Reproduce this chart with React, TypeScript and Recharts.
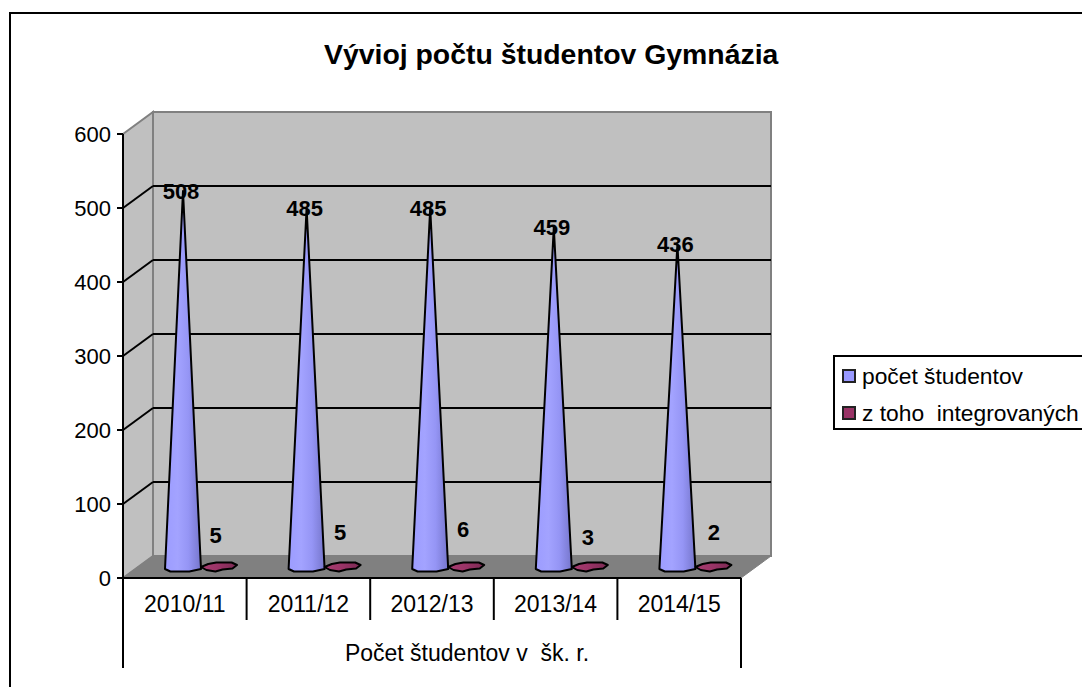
import React from 'react';
import { ComposedChart, Bar, XAxis, YAxis, LabelList, usePlotArea } from 'recharts';

const categories = ['2010/11', '2011/12', '2012/13', '2013/14', '2014/15'];
const studentCounts = [508, 485, 485, 459, 436];
const integratedCounts = [5, 5, 6, 3, 2];
const yTicks = [0, 100, 200, 300, 400, 500, 600];
const seriesNames = ['počet študentov', 'z toho  integrovaných'];
const groupLabel = 'Počet študentov v  šk. r.';
const chartTitle = 'Vývioj počtu študentov Gymnázia';

const rows = categories.map((c, i) => ({ category: c, students: studentCounts[i], integrated: integratedCounts[i] }));

const FONT = '"Liberation Sans", Arial, sans-serif';
const DEPTH_X = 30;
const DEPTH_Y = 22;
const MID_X = 16;
const MID_Y = 11;
const Y_MAX = 600;
const integratedNudge = [-28, -31, -34, -28, -33.5];
const integratedNudgeX = [-3.5, -2.6, -3, -2, 0.5];

function Walls() {
  const plot = usePlotArea();
  if (!plot) return null;
  const { x, y, width, height } = plot;
  const bottom = y + height;
  const right = x + width;
  const yOf = (v: number) => bottom - (height * v) / Y_MAX;
  const band = width / categories.length;
  const pts = (a: number[][]) => a.map((p) => p.join(',')).join(' ');
  return (
    <g>
      <polygon points={pts([[x, y], [x + DEPTH_X, y - DEPTH_Y], [x + DEPTH_X, bottom - DEPTH_Y], [x, bottom]])} fill="#C0C0C0" stroke="#808080" strokeWidth={2} />
      <rect x={x + DEPTH_X} y={y - DEPTH_Y} width={width} height={height} fill="#C0C0C0" stroke="#808080" strokeWidth={2} />
      <polygon points={pts([[x, bottom], [x + DEPTH_X, bottom - DEPTH_Y], [right + DEPTH_X, bottom - DEPTH_Y], [right, bottom]])} fill="#808080" stroke="#808080" strokeWidth={1} />
      {yTicks.filter((t) => t > 0 && t < Y_MAX).map((t) => (
        <g key={t}>
          <line x1={x + DEPTH_X} x2={right + DEPTH_X} y1={yOf(t) - DEPTH_Y} y2={yOf(t) - DEPTH_Y} stroke="#000" strokeWidth={2} />
          <line x1={x} x2={x + DEPTH_X} y1={yOf(t)} y2={yOf(t) - DEPTH_Y} stroke="#000" strokeWidth={2} />
        </g>
      ))}
      <line x1={x} x2={x} y1={y} y2={bottom + 90} stroke="#000" strokeWidth={2} />
      <line x1={right} x2={right} y1={bottom} y2={bottom + 90} stroke="#000" strokeWidth={2} />
      <line x1={x} x2={right} y1={bottom} y2={bottom} stroke="#000" strokeWidth={2} />
      {categories.slice(1).map((c, i) => (
        <line key={c} x1={x + band * (i + 1)} x2={x + band * (i + 1)} y1={bottom} y2={bottom + 42} stroke="#000" strokeWidth={2} />
      ))}
      <text x={x + width / 2 + 35} y={bottom + 83} textAnchor="middle" fontFamily={FONT} fontSize={23} fill="#000" style={{ whiteSpace: 'pre' }}>{groupLabel}</text>
    </g>
  );
}

function Cone(props: any) {
  const { x, y, width, height, fillId } = props;
  const cx = x + width / 2 + MID_X;
  const base = y + height - MID_Y;
  const apex = y - MID_Y;
  const rx = width / 2;
  const p = (dx: number, dy: number) => `${cx + rx * dx},${base + dy}`;
  const d = height > 10
    ? `M${p(-1, 2)} L${p(-0.7, 4.5)} L${p(0.35, 4.5)} L${p(1, 2)} L${cx},${apex} Z`
    : `M${p(-1, 0)} L${p(-0.6, -3)} L${p(-0.15, -4.5)} L${p(0.7, -4.5)} L${p(1, -2)} L${p(0.75, 1.5)} L${p(0.2, 2.5)} L${p(-0.2, 4.5)} L${p(-0.7, 3)} Z`;
  return <path d={d} fill={`url(#${fillId})`} stroke="#000" strokeWidth={2} strokeLinejoin="round" />;
}

function StudentLabel(props: any) {
  const { x, y, width, value } = props;
  return (
    <text x={x + width / 2 + MID_X - 2} y={y - MID_Y + 8} textAnchor="middle" fontFamily={FONT} fontSize={22} fontWeight="bold" fill="#000">{value}</text>
  );
}

function IntegratedLabel(props: any) {
  const { x, y, width, value, index } = props;
  return (
    <text x={x + width / 2 + MID_X + integratedNudgeX[index]} y={y - MID_Y + integratedNudge[index] + 8} textAnchor="middle" fontFamily={FONT} fontSize={22} fontWeight="bold" fill="#000">{value}</text>
  );
}

function LegendBox() {
  const swatches = ['#9999FF', '#993366'];
  return (
    <div style={{ position: 'absolute', left: 833, top: 355, width: 249, height: 75, boxSizing: 'border-box', border: '2px solid #000', borderRight: 'none', background: '#fff', fontFamily: FONT, fontSize: 22.8, color: '#000', overflow: 'hidden' }}>
      {seriesNames.map((n, i) => (
        <div key={n} style={{ position: 'absolute', left: 7, top: 6 + i * 37, whiteSpace: 'pre', display: 'flex', alignItems: 'center', height: 26 }}>
          <span style={{ display: 'inline-block', width: 10, height: 10, background: swatches[i], border: '2px solid #222', marginRight: 6 }} />
          {n}
        </div>
      ))}
    </div>
  );
}

export default function App() {
  return (
    <div style={{ position: 'absolute', left: 0, top: 0, width: 1082, height: 687, overflow: 'hidden', background: '#fff' }}>
      <div style={{ position: 'absolute', left: 9, top: 12, width: 1073, height: 675, boxSizing: 'border-box', borderLeft: '2px solid #000', borderTop: '2px solid #000' }} />
      <div style={{ position: 'absolute', left: 324, width: 460, top: 38, whiteSpace: 'nowrap', fontFamily: FONT, fontSize: 28.4, fontWeight: 'bold', color: '#000' }}>{chartTitle}</div>
      <div style={{ position: 'absolute', left: 0, top: 0 }}>
        <ComposedChart width={1082} height={687} data={rows} margin={{ top: 134, right: 341, bottom: 0, left: 0 }} barSize={36} barGap={0} style={{ fontFamily: FONT }}>
          <defs>
            <linearGradient id="coneBlue" x1="0" x2="1" y1="0" y2="0">
              <stop offset="0" stopColor="#9C9CFF" />
              <stop offset="0.35" stopColor="#A3A3FF" />
              <stop offset="0.65" stopColor="#9595F5" />
              <stop offset="1" stopColor="#7676CC" />
            </linearGradient>
            <linearGradient id="coneRed" x1="0" x2="1" y1="0" y2="0">
              <stop offset="0" stopColor="#A83D70" />
              <stop offset="0.5" stopColor="#993366" />
              <stop offset="1" stopColor="#7A2A52" />
            </linearGradient>
          </defs>
          <Walls />
          <XAxis dataKey="category" axisLine={false} tickLine={false} height={109} interval={0} tick={{ fill: '#000', fontSize: 23 }} tickMargin={12} />
          <YAxis domain={[0, Y_MAX]} ticks={yTicks} width={123} axisLine={false} tickLine={{ stroke: '#000', strokeWidth: 2 }} tickSize={6} tick={{ fill: '#000', fontSize: 22 }} tickMargin={6} />
          <Bar dataKey="students" name={seriesNames[0]} isAnimationActive={false} shape={(p: any) => <Cone {...p} fillId="coneBlue" />}>
            <LabelList dataKey="students" content={StudentLabel} />
          </Bar>
          <Bar dataKey="integrated" name={seriesNames[1]} isAnimationActive={false} shape={(p: any) => <Cone {...p} fillId="coneRed" />}>
            <LabelList dataKey="integrated" content={IntegratedLabel} />
          </Bar>
        </ComposedChart>
      </div>
      <LegendBox />
    </div>
  );
}
